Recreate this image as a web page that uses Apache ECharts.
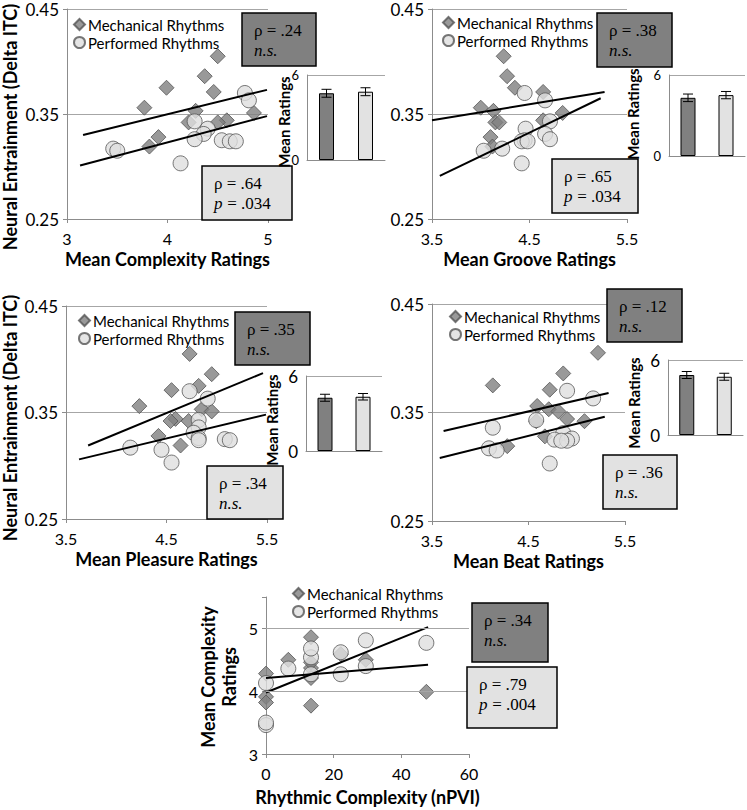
<!DOCTYPE html>
<html><head><meta charset="utf-8">
<script src="https://cdn.jsdelivr.net/npm/echarts@6/dist/echarts.min.js"></script>
<style>html,body{margin:0;padding:0;background:#fff}#c{width:747px;height:810px}</style>
</head><body><div id="c"></div>
<script>
// ---- data ----
const seriesNames = ['Mechanical Rhythms', 'Performed Rhythms'];
const mechITC = [0.405, 0.386, 0.375, 0.371, 0.356, 0.353, 0.351, 0.344, 0.342, 0.342, 0.328, 0.319];
const perfITC = [0.370, 0.363, 0.343, 0.336, 0.331, 0.326, 0.325, 0.324, 0.324, 0.317, 0.315, 0.303];

const mechComplexity = [4.50, 4.37, 3.99, 4.46, 3.77, 4.28, 4.86, 4.59, 4.21, 4.50, 3.91, 3.82];
const perfComplexity = [4.77, 4.81, 4.27, 4.40, 4.36, 4.27, 4.54, 4.62, 4.68, 3.46, 3.50, 4.13];
const mechGroove = [4.235, 4.27, 4.35, 4.64, 4.00, 4.13, 4.84, 4.64, 4.15, 4.19, 4.10, 4.12];
const perfGroove = [4.45, 4.66, 4.71, 4.46, 4.66, 4.71, 4.45, 4.42, 4.48, 4.22, 4.03, 4.42];
const mechPleasure = [4.73, 4.95, 4.82, 4.55, 4.23, 4.85, 4.95, 4.59, 4.54, 4.72, 4.42, 4.64];
const perfPleasure = [4.73, 4.91, 4.82, 4.82, 4.77, 4.82, 5.08, 5.13, 4.82, 4.14, 4.45, 4.55];
const mechBeat = [5.22, 4.86, 4.13, 4.72, 4.59, 4.71, 4.81, 4.90, 5.08, 4.58, 4.67, 4.28];
const perfBeat = [4.90, 5.17, 4.58, 4.13, 4.86, 4.95, 4.77, 4.90, 4.84, 4.09, 4.17, 4.72];
const mechNPVI = [6.6, 13.3, 47.4, 13.3, 13.3, 0, 13.3, 22.1, 13.3, 29.5, 0, 0];
const perfNPVI = [47.4, 29.5, 22.1, 29.5, 6.6, 13.3, 13.3, 22.1, 13.3, 0, 0, 0];

// regression line endpoints [[x1,y1],[x2,y2]]
const fitMechComplexity = [[3.16, 0.330], [4.99, 0.373]];
const fitPerfComplexity = [[3.13, 0.301], [4.99, 0.348]];
const fitMechGroove = [[3.50, 0.344], [5.27, 0.371]];
const fitPerfGroove = [[3.58, 0.291], [5.23, 0.365]];
const fitMechPleasure = [[3.72, 0.319], [5.46, 0.387]];
const fitPerfPleasure = [[3.63, 0.306], [5.49, 0.348]];
const fitMechBeat = [[3.62, 0.333], [5.33, 0.368]];
const fitPerfBeat = [[3.58, 0.308], [5.29, 0.346]];
const fitMechNPVI = [[0, 4.21], [47.9, 4.42]];
const fitPerfNPVI = [[0, 3.98], [47.9, 5.02]];

// inset bar charts: mean ratings (mechanical, performed) and error
const barCategories = ['Mechanical', 'Performed'];
const meanComplexity = [4.71, 4.82], errComplexity = [0.28, 0.28];
const meanGroove = [4.31, 4.51], errGroove = [0.28, 0.27];
const meanPleasure = [4.26, 4.34], errPleasure = [0.28, 0.26];
const meanBeat = [4.80, 4.66], errBeat = [0.28, 0.28];

// statistics text
const statsMech = ['ρ = .24', 'ρ = .38', 'ρ = .35', 'ρ = .12', 'ρ = .34'];
const pMech = ['n.s.', 'n.s.', 'n.s.', 'n.s.', 'n.s.'];
const statsPerf = ['ρ = .64', 'ρ = .65', 'ρ = .34', 'ρ = .36', 'ρ = .79'];
const pPerf = ['.034', '.034', 'n.s.', 'n.s.', '.004'];

// ---- styles / layout ----
const FONT = 'Lato';
const SERIF_FONT = '17px "Liberation Serif", "DejaVu Serif", serif';
const SERIF_ITALIC = 'italic 17px "Liberation Serif", "DejaVu Serif", serif';
const mechStyle = {color: '#808080', borderColor: '#555555', borderWidth: 1};
const perfStyle = {color: '#dedede', borderColor: '#555555', borderWidth: 1};
const barColors = ['#808080', '#e2e2e2'];
const axisGray = '#8c8c8c';

const grids = [
  {left: 67, top: 9, width: 201, height: 210},
  {left: 432, top: 9, width: 195, height: 210},
  {left: 66, top: 306, width: 201, height: 213},
  {left: 432, top: 304, width: 193, height: 217},
  {left: 266, top: 597, width: 203, height: 157},
  {left: 307, top: 75, width: 78, height: 85},
  {left: 669, top: 75, width: 76, height: 81},
  {left: 306, top: 376, width: 76, height: 75},
  {left: 668, top: 360, width: 75, height: 75}
];

function valAxis(grid, min, max, interval, extra) {
  return Object.assign({
    type: 'value', gridIndex: grid, min, max, interval,
    axisLine: {show: true, onZero: false, lineStyle: {color: axisGray, width: 1}},
    axisTick: {show: true, length: 4, lineStyle: {color: axisGray}},
    splitLine: {show: false},
    axisLabel: {fontSize: 17, color: '#000', fontFamily: FONT, margin: 8}
  }, extra || {});
}
const xNameStyle = {fontSize: 18, fontWeight: 'bold', color: '#000', fontFamily: FONT};

const xAxes = [
  valAxis(0, 3, 5, 1, {name: 'Mean Complexity Ratings', nameLocation: 'middle', nameGap: 31, nameTextStyle: xNameStyle}),
  valAxis(1, 3.5, 5.5, 1, {name: 'Mean Groove Ratings', nameLocation: 'middle', nameGap: 31, nameTextStyle: xNameStyle}),
  valAxis(2, 3.5, 5.5, 1, {name: 'Mean Pleasure Ratings', nameLocation: 'middle', nameGap: 31, nameTextStyle: xNameStyle}),
  valAxis(3, 3.5, 5.5, 1, {name: 'Mean Beat Ratings', nameLocation: 'middle', nameGap: 31, nameTextStyle: xNameStyle}),
  valAxis(4, 0, 60, 20, {name: 'Rhythmic Complexity (nPVI)', nameLocation: 'middle', nameGap: 34, nameTextStyle: xNameStyle})
];
xAxes.forEach(a => { a.axisLabel.margin = 11; a.axisLabel.fontSize = 16; });
for (let g = 5; g < 9; g++) {
  xAxes.push({type: 'category', gridIndex: g, data: barCategories,
    axisLine: {show: true, onZero: false, lineStyle: {color: axisGray}},
    axisTick: {show: false}, axisLabel: {show: false}, splitLine: {show: false}});
}
const gridSplit = {show: true, lineStyle: {color: '#a6a6a6', width: 1}};
const yAxes = [
  valAxis(0, 0.25, 0.45, 0.1, {splitLine: gridSplit}),
  valAxis(1, 0.25, 0.45, 0.1, {splitLine: gridSplit}),
  valAxis(2, 0.25, 0.45, 0.1, {splitLine: gridSplit}),
  valAxis(3, 0.25, 0.45, 0.1, {splitLine: gridSplit}),
  valAxis(4, 3, 5.5, 1, {axisLabel: {fontSize: 16, color: '#000', fontFamily: FONT, margin: 8,
    formatter: v => (v % 1 === 0 ? String(v) : '')}})
];
const insetFont = [13, 13, 17, 17];
for (let g = 5; g < 9; g++) {
  yAxes.push(valAxis(g, 0, 6, 6, {splitLine: gridSplit, axisTick: {show: false},
    axisLabel: {fontSize: insetFont[g - 5], color: '#000', fontFamily: FONT, margin: 8}}));
}

const series = [];
function scatterPanel(g, mx, my, px, py, fm, fp) {
  series.push({type: 'scatter', name: seriesNames[0], xAxisIndex: g, yAxisIndex: g, symbol: 'diamond', symbolSize: 15,
    itemStyle: mechStyle, z: 2, data: mx.map((v, i) => [v, my[i]])});
  series.push({type: 'scatter', name: seriesNames[1], xAxisIndex: g, yAxisIndex: g, symbol: 'circle', symbolSize: 15,
    itemStyle: perfStyle, z: 3, data: px.map((v, i) => [v, py[i]])});
  [fm, fp].forEach((f, k) => series.push({type: 'line', name: 'fit' + g + k, xAxisIndex: g, yAxisIndex: g, symbol: 'none',
    lineStyle: {color: '#000', width: 2}, z: 4, silent: true, data: f}));
}
scatterPanel(0, mechComplexity, mechITC, perfComplexity, perfITC, fitMechComplexity, fitPerfComplexity);
scatterPanel(1, mechGroove, mechITC, perfGroove, perfITC, fitMechGroove, fitPerfGroove);
scatterPanel(2, mechPleasure, mechITC, perfPleasure, perfITC, fitMechPleasure, fitPerfPleasure);
scatterPanel(3, mechBeat, mechITC, perfBeat, perfITC, fitMechBeat, fitPerfBeat);
scatterPanel(4, mechNPVI, mechComplexity, perfNPVI, perfComplexity, fitMechNPVI, fitPerfNPVI);
// gridlines for panel 5 at tick values
series[series.length - 1].markLine = {silent: true, symbol: 'none', label: {show: false},
  lineStyle: {color: '#a6a6a6', type: 'solid', width: 1}, data: [{yAxis: 4}, {yAxis: 5}]};

function barPanel(g, means, errs) {
  series.push({type: 'bar', name: 'bars' + g, xAxisIndex: g, yAxisIndex: g, barWidth: 15, z: 2,
    data: means.map((m, i) => ({value: m, itemStyle: {color: barColors[i], borderColor: '#000', borderWidth: 1}}))});
  series.push({type: 'custom', name: 'err' + g, xAxisIndex: g, yAxisIndex: g, z: 5, silent: true,
    data: means.map((m, i) => [i, m, errs[i]]),
    renderItem: (params, api) => {
      const i = api.value(0), m = api.value(1), e = api.value(2);
      const t = api.coord([i, m + e]), b = api.coord([i, m - e]);
      const hw = 5, st = {stroke: '#000', lineWidth: 1};
      return {type: 'group', children: [
        {type: 'line', shape: {x1: t[0], y1: t[1], x2: b[0], y2: b[1]}, style: st},
        {type: 'line', shape: {x1: t[0] - hw, y1: t[1], x2: t[0] + hw, y2: t[1]}, style: st},
        {type: 'line', shape: {x1: b[0] - hw, y1: b[1], x2: b[0] + hw, y2: b[1]}, style: st}
      ]};
    }});
}
barPanel(5, meanComplexity, errComplexity);
barPanel(6, meanGroove, errGroove);
barPanel(7, meanPleasure, errPleasure);
barPanel(8, meanBeat, errBeat);

// legends
const legendPos = [[68, 12], [437, 10], [73, 308], [444, 304], [287, 581]];
const legends = legendPos.map(p => ({
  orient: 'vertical', left: p[0], top: p[1], itemWidth: 11, itemHeight: 11, itemGap: 3,
  textStyle: {fontSize: 15, color: '#000', fontFamily: FONT, padding: [0, 0, 0, -2]},
  selectedMode: false,
  data: [{name: seriesNames[0], icon: 'diamond'}, {name: seriesNames[1], icon: 'circle'}]
}));

// annotation boxes
const graphic = [];
function statBox(x, y, w, h, fill, l1, l2, isP) {
  graphic.push({type: 'rect', shape: {x, y, width: w, height: h}, z: 20,
    style: {fill, stroke: '#000', lineWidth: 1.5}});
  graphic.push({type: 'text', x: x + 12, y: y + 9, z: 21,
    style: {text: l1, fill: '#000', font: SERIF_FONT}});
  if (isP) {
    graphic.push({type: 'text', x: x + 12, y: y + 29, z: 21,
      style: {text: 'p', fill: '#000', font: SERIF_ITALIC}});
    graphic.push({type: 'text', x: x + 21, y: y + 29, z: 21,
      style: {text: ' = ' + l2, fill: '#000', font: SERIF_FONT}});
  } else {
    graphic.push({type: 'text', x: x + 12, y: y + 29, z: 21,
      style: {text: l2, fill: '#000', font: SERIF_ITALIC}});
  }
}
const darkBoxes = [[242, 13, 74, 53], [597, 13, 75, 54], [235, 312, 75, 53], [607, 289, 75, 53], [472, 603, 76, 59]];
const lightBoxes = [[202, 166, 90, 54], [552, 159, 86, 54], [207, 466, 76, 53], [603, 455, 74, 54], [467, 667, 90, 61]];
darkBoxes.forEach((b, k) => statBox(b[0], b[1], b[2], b[3], '#808080', statsMech[k], pMech[k], pMech[k] !== 'n.s.'));
lightBoxes.forEach((b, k) => statBox(b[0], b[1], b[2], b[3], '#e2e2e2', statsPerf[k], pPerf[k], pPerf[k] !== 'n.s.'));

// rotated axis titles
function vText(x, y, text, size) {
  graphic.push({type: 'text', x, y, rotation: Math.PI / 2, z: 21,
    style: {text, fill: '#000', fontFamily: FONT, fontWeight: 'bold', fontSize: size, align: 'center', verticalAlign: 'middle', lineHeight: size + 3}});
}
vText(10, 127, 'Neural Entrainment (Delta ITC)', 18);
vText(10, 418, 'Neural Entrainment (Delta ITC)', 18);
vText(218, 677, 'Mean Complexity\nRatings', 18);
vText(284, 122, 'Mean Ratings', 15);
vText(633, 114, 'Mean Ratings', 15);
vText(272, 420, 'Mean Ratings', 15);
vText(634, 403, 'Mean Ratings', 15);

const chart = echarts.init(document.getElementById('c'), null, {renderer: 'svg'});
chart.setOption({
  animation: false,
  backgroundColor: '#fff',
  textStyle: {fontFamily: FONT},
  grid: grids,
  xAxis: xAxes,
  yAxis: yAxes,
  legend: legends,
  series,
  graphic
});
</script></body></html>
